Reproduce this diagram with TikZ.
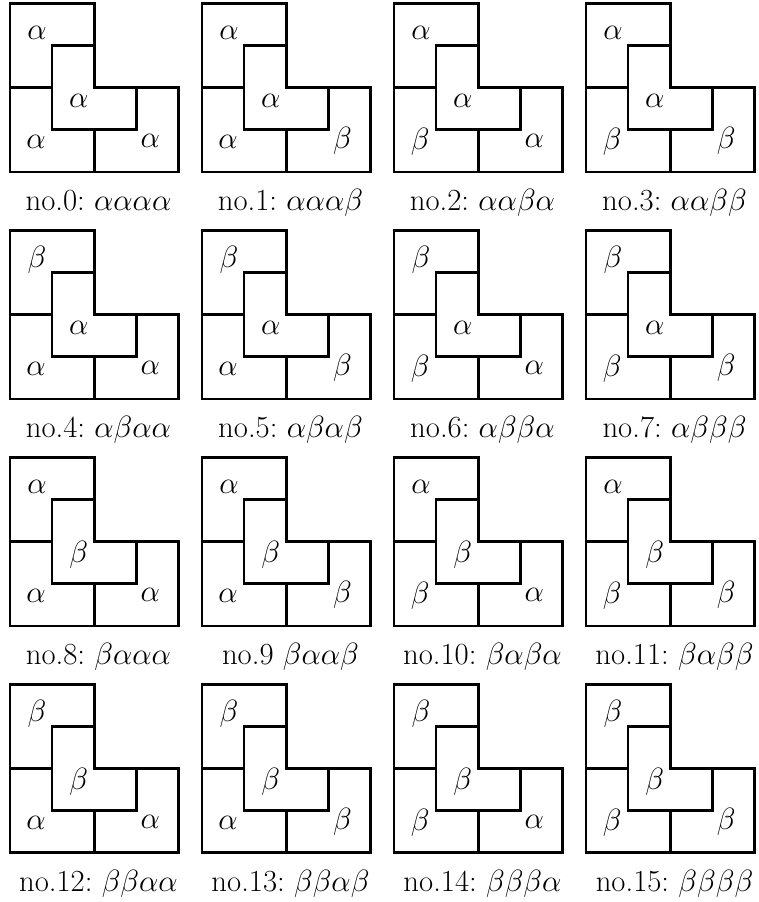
\documentclass[tikz,border=0pt]{standalone}
\usetikzlibrary{calc}

\begin{document}
\begin{tikzpicture}[
  x=1cm, y=-1cm,
  line/.style={line width=1.8pt},
  lbl/.style={inner sep=0pt, font=\huge},
  caption/.style={anchor=base, inner sep=0pt, font=\huge}
]
\useasboundingbox (0,0) rectangle (18.0,21.4);

%================================================
% TILES:  number / colon / C / TL / BL / BR
%================================================
\foreach \n/\punct/\xc/\xtl/\xbl/\xbr in {
  0/:/\alpha/\alpha/\alpha/\alpha,
  1/:/\alpha/\alpha/\alpha/\beta,
  2/:/\alpha/\alpha/\beta/\alpha,
  3/:/\alpha/\alpha/\beta/\beta,
  4/:/\alpha/\beta/\alpha/\alpha,
  5/:/\alpha/\beta/\alpha/\beta,
  6/:/\alpha/\beta/\beta/\alpha,
  7/:/\alpha/\beta/\beta/\beta,
  8/:/\beta/\alpha/\alpha/\alpha,
  9//\beta/\alpha/\alpha/\beta,
  10/:/\beta/\alpha/\beta/\alpha,
  11/:/\beta/\alpha/\beta/\beta,
  12/:/\beta/\beta/\alpha/\alpha,
  13/:/\beta/\beta/\alpha/\beta,
  14/:/\beta/\beta/\beta/\alpha,
  15/:/\beta/\beta/\beta/\beta}{
  \pgfmathtruncatemacro{\c}{mod(\n,4)}
  \pgfmathtruncatemacro{\r}{div(\n,4)}
  \coordinate (o\n) at ({0.237+4.555*\c},{0.078+5.385*\r});

  % outline
  \draw[line] (o\n) -- ++(2,0) -- ++(0,2) -- ++(2,0) -- ++(0,2)
    -- ++(-4,0) -- cycle;
  % middle piece
  \draw[line] ($(o\n)+(1,1)$) -- ++(1,0) -- ++(0,1) -- ++(1,0)
    -- ++(0,1) -- ++(-2,0) -- cycle;
  % cuts
  \draw[line] ($(o\n)+(0,2)$) -- ++(1,0);
  \draw[line] ($(o\n)+(2,3)$) -- ++(0,1);

  \node[lbl] (t\n-tl) at ($(o\n)+(0.64,0.7)$) {$\xtl$};
  \node[lbl] (t\n-c) at ($(o\n)+(1.63,2.31)$) {$\xc$};
  \node[lbl] (t\n-bl) at ($(o\n)+(0.62,3.28)$) {$\xbl$};
  \node[lbl] (t\n-br) at ($(o\n)+(3.33,3.27)$) {$\xbr$};

  \node[caption] (cap\n) at ($(o\n)+(2.1,4.92)$)
    {no.\n\punct\ $\xc\xtl\xbl\xbr$};
}

\end{tikzpicture}
\end{document}
